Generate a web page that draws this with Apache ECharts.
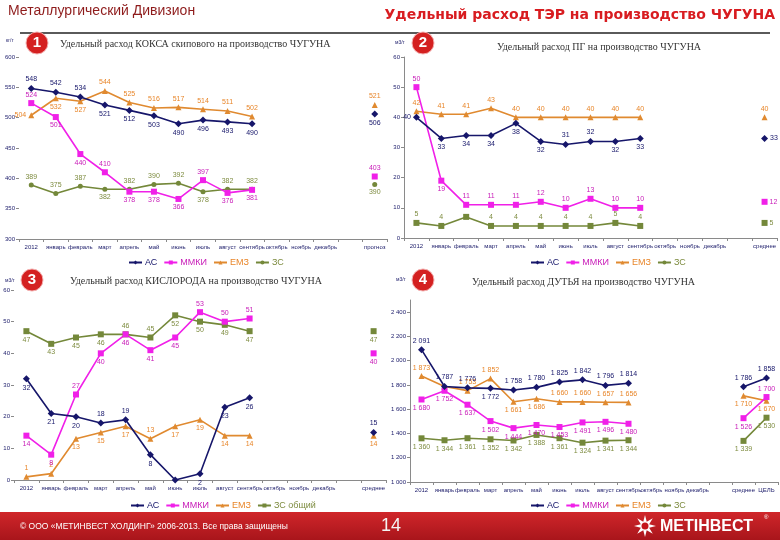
<!DOCTYPE html>
<html><head><meta charset="utf-8">
<script src="https://cdn.jsdelivr.net/npm/echarts@6/dist/echarts.min.js"></script>
<style>html,body{margin:0;padding:0;background:#fff}#c{width:780px;height:540px}</style>
</head><body><div id="c"></div>
<script>
// ---------- DATA ----------
const cats1 = ['2012','январь','февраль','март','апрель','май','июнь','июль','август','сентябрь','октябрь','ноябрь','декабрь','','прогноз'];
const cats2 = ['2012','январь','февраль','март','апрель','май','июнь','июль','август','сентябрь','октябрь','ноябрь','декабрь','','среднее'];
const cats3 = ['2012','январь','февраль','март','апрель','май','июнь','июль','август','сентябрь','октябрь','ноябрь','декабрь','','среднее'];
const cats4 = ['2012','январь','февраль','март','апрель','май','июнь','июль','август','сентябрь','октябрь','ноябрь','декабрь','','среднее','ЦЕЛЬ'];

// 1: кокс, кг/т
const koksAS  = [548,542,534,521,512,503,490,496,493,490,null,null,null,null,506];
const koksMMK = [524,501,440,410,378,378,366,397,376,381,null,null,null,null,403];
const koksEMZ = [504,532,527,544,525,516,517,514,511,502,null,null,null,null,521];
const koksZS  = [389,375,387,382,382,390,392,378,382,382,null,null,null,null,390];
// 2: природный газ, м3/т
const pgAS  = [40,33,34,34,38,32,31,32,32,33,null,null,null,null,33];
const pgMMK = [50,19,11,11,11,12,10,13,10,10,null,null,null,null,12];
const pgEMZ = [42,41,41,43,40,40,40,40,40,40,null,null,null,null,40];
const pgZS  = [5,4,7,4,4,4,4,4,5,4,null,null,null,null,5];
// 3: кислород, м3/т
const o2AS  = [32,21,20,18,19,8,0,2,23,26,null,null,null,null,15];
const o2MMK = [14,8,27,40,46,41,45,53,50,51,null,null,null,null,40];
const o2EMZ = [1,2,13,15,17,13,17,19,14,14,null,null,null,null,14];
const o2ZS  = [47,43,45,46,46,45,52,50,49,47,null,null,null,null,47];
// 4: дутьё, м3/т
const blAS  = [2091,1787,1776,1772,1758,1780,1825,1842,1796,1814,null,null,null,null,1786,1858];
const blMMK = [1680,1752,1637,1502,1444,1470,1453,1491,1496,1480,null,null,null,null,1526,1700];
const blEMZ = [1873,1787,1753,1852,1661,1686,1660,1660,1657,1656,null,null,null,null,1710,1670];
const blZS  = [1360,1344,1361,1352,1342,1388,1361,1324,1341,1344,null,null,null,null,1339,1530];

// ---------- STYLE ----------
const C = {AS:'#16166a', MMK:'#f020e8', EMZ:'#e08a30', ZS:'#74883a'};
const LC = {AS:'#16166a', MMK:'#c81cb8', EMZ:'#e8862a', ZS:'#7e8c40'};
const T='top',B='bottom',L='left',R='right',N='none';
const p1 = {
  AS:[T,T,T,B,B,B,B,B,B,B,T,T,T,T,B],
  MMK:[T,B,B,T,B,B,B,T,B,B,T,T,T,T,T],
  EMZ:[L,B,B,T,T,T,T,T,T,T,T,T,T,T,T],
  ZS:[T,T,T,B,T,T,T,B,T,T,T,T,T,T,B]
};
const p2 = {
  AS:[L,B,B,B,B,B,T,T,B,B,T,T,T,T,R],
  MMK:[T,B,T,T,T,T,T,T,T,T,T,T,T,T,R],
  EMZ:[T,T,T,T,T,T,T,T,T,T,T,T,T,T,T],
  ZS:[T,T,N,T,T,T,T,T,T,T,T,T,T,T,R]
};
const p3 = {
  AS:[B,B,B,T,T,B,N,B,B,B,T,T,T,T,T],
  MMK:[B,B,T,B,B,B,B,T,T,T,T,T,T,T,B],
  EMZ:[T,T,B,B,B,T,B,B,B,B,T,T,T,T,B],
  ZS:[B,B,B,B,T,T,B,B,B,B,T,T,T,T,B]
};
const p4 = {
  AS:[T,T,T,B,T,T,T,T,T,T,T,T,T,T,T,T],
  MMK:[B,B,B,B,B,B,B,B,B,B,B,B,B,B,B,T],
  EMZ:[T,N,T,T,B,B,T,T,T,T,T,T,T,T,B,B],
  ZS:[B,B,B,B,B,B,B,B,B,B,B,B,B,B,B,B]
};
const NARROW = '"Liberation Sans Narrow","Arial Narrow","Liberation Sans",Arial,sans-serif';
const sp = v => String(v).replace(/\B(?=(\d{3})+(?!\d))/g,' ');

function mk(name, key, arr, pos, idx, symbol, size, fmt){
  return {
    type:'line', name, xAxisIndex:idx, yAxisIndex:idx,
    symbol, symbolSize:size, z:3,
    lineStyle:{color:C[key], width:1.6},
    itemStyle:{color:C[key]},
    label:{show:true, fontSize:7, color:LC[key], distance:2, fontFamily:NARROW, formatter: p => fmt ? fmt(p.value) : p.value},
    emphasis:{disabled:true},
    animation:false,
    data: arr.map((v,i)=> v==null ? null : {value:v, label: pos[i]===N ? {show:false} : {position:pos[i]}})
  };
}

const xBase = {type:'category', boundaryGap:true,
  axisLine:{lineStyle:{color:'#8a8a8a'}}, axisTick:{show:true, length:3, lineStyle:{color:'#8a8a8a'}},
  axisLabel:{interval:0, fontSize:6, color:'#1c1c6a', margin:5, fontFamily:NARROW}};
const yBase = (min,max,interval,line,fmt)=>({type:'value', min, max, interval,
  axisLine:{show:line, lineStyle:{color:'#8a8a8a'}}, axisTick:{show:true, length:3, lineStyle:{color:'#8a8a8a'}},
  splitLine:{show:false},
  axisLabel:{fontSize:6, color:'#1c1c6a', margin:4, fontFamily:NARROW, showMaxLabel: max%interval===0, formatter: fmt||'{value}'}});

function legend(left, top, names){
  return {left, top, itemWidth:13, itemHeight:5, itemGap:6, padding:0,
    textStyle:{fontSize:9, fontFamily:NARROW, padding:[0,0,0,-2]},
    data: names.map(([n,k])=>({name:n, textStyle:{color:LC[k]}}))};
}

const star = [];
for (let i=0;i<16;i++){ const r = i%2? 4.5:11; const a = -Math.PI/2 + i*Math.PI/8; star.push([645+r*Math.cos(a), 526+r*Math.sin(a)]); }

const titleStyle = {fontFamily:'"Liberation Serif","Times New Roman",serif', fontSize:10, fontWeight:'normal', color:'#333'};

const option = {
  backgroundColor:'#fff',
  animation:false,
  title:[
    {text:'Удельный расход КОКСА скипового на производство ЧУГУНА', left:60, top:39, textStyle:titleStyle, padding:0},
    {text:'Удельный расход ПГ на производство ЧУГУНА', left:497, top:42, textStyle:titleStyle, padding:0},
    {text:'Удельный расход КИСЛОРОДА на производство ЧУГУНА', left:70, top:276, textStyle:titleStyle, padding:0},
    {text:'Удельный расход ДУТЬЯ на производство ЧУГУНА', left:472, top:277, textStyle:titleStyle, padding:0}
  ],
  grid:[
    {left:19, top:57, width:368, height:182, containLabel:false},
    {left:404, top:57, width:373, height:181, containLabel:false},
    {left:14, top:290, width:372, height:190, containLabel:false},
    {left:410, top:300, width:368, height:182, containLabel:false}
  ],
  xAxis:[
    Object.assign({}, xBase, {gridIndex:0, data:cats1}),
    Object.assign({}, xBase, {gridIndex:1, data:cats2}),
    Object.assign({}, xBase, {gridIndex:2, data:cats3}),
    Object.assign({}, xBase, {gridIndex:3, data:cats4})
  ],
  yAxis:[
    Object.assign(yBase(300,600,50,false), {gridIndex:0}),
    Object.assign(yBase(0,60,10,true), {gridIndex:1}),
    Object.assign(yBase(0,60,10,false), {gridIndex:2}),
    Object.assign(yBase(1000,2500,200,true, v=>sp(v)), {gridIndex:3})
  ],
  legend:[
    legend(128,258,[['АС','AS'],['ММКИ','MMK'],['ЕМЗ','EMZ'],['ЗС','ZS']]),
    legend(530,258,[['АС','AS'],['ММКИ','MMK'],['ЕМЗ','EMZ'],['ЗС','ZS']]),
    legend(130,501,[['АС','AS'],['ММКИ','MMK'],['ЕМЗ','EMZ'],['ЗС общий','ZS']]),
    legend(530,501,[['АС','AS'],['ММКИ','MMK'],['ЕМЗ','EMZ'],['ЗС','ZS']])
  ],
  series:[
    mk('ЗС','ZS',koksZS,p1.ZS,0,'circle',5),
    mk('ЕМЗ','EMZ',koksEMZ,p1.EMZ,0,'triangle',6),
    mk('ММКИ','MMK',koksMMK,p1.MMK,0,'rect',6),
    mk('АС','AS',koksAS,p1.AS,0,'diamond',7),

    mk('ЗС','ZS',pgZS,p2.ZS,1,'rect',6),
    mk('ЕМЗ','EMZ',pgEMZ,p2.EMZ,1,'triangle',6),
    mk('ММКИ','MMK',pgMMK,p2.MMK,1,'rect',6),
    mk('АС','AS',pgAS,p2.AS,1,'diamond',7),

    mk('ЗС общий','ZS',o2ZS,p3.ZS,2,'rect',6),
    mk('ЕМЗ','EMZ',o2EMZ,p3.EMZ,2,'triangle',6),
    mk('ММКИ','MMK',o2MMK,p3.MMK,2,'rect',6),
    mk('АС','AS',o2AS,p3.AS,2,'diamond',7),

    mk('ЗС','ZS',blZS,p4.ZS,3,'rect',6,sp),
    mk('ЕМЗ','EMZ',blEMZ,p4.EMZ,3,'triangle',6,sp),
    mk('ММКИ','MMK',blMMK,p4.MMK,3,'rect',6,sp),
    mk('АС','AS',blAS,p4.AS,3,'diamond',7,sp)
  ],
  graphic:[
    {type:'text', left:8, top:4, style:{text:'Металлургический Дивизион', fill:'#8e1b1b', font:'14px "Liberation Sans", Arial, sans-serif'}},
    {type:'text', right:5, top:8, style:{text:'Удельный расход ТЭР на производство ЧУГУНА', fill:'#d81c20', font:'bold 14px "DejaVu Sans", sans-serif'}},
    {type:'line', shape:{x1:20,y1:33,x2:770,y2:33}, style:{stroke:'#5a5a5a', lineWidth:2}},
    // unit labels
    {type:'text', left:6, top:38, style:{text:'кг/т', fill:'#1c1c6a', font:'5px sans-serif'}},
    {type:'text', left:395, top:40, style:{text:'м3/т', fill:'#1c1c6a', font:'5px sans-serif'}},
    {type:'text', left:5, top:278, style:{text:'м3/т', fill:'#1c1c6a', font:'5px sans-serif'}},
    {type:'text', left:396, top:277, style:{text:'м3/т', fill:'#1c1c6a', font:'5px sans-serif'}},
    // number badges
    {type:'circle', shape:{cx:37,cy:43,r:11}, style:{fill:'#d42020', stroke:'#f4b0b0', lineWidth:1}},
    {type:'text', x:37, y:43, style:{text:'1', fill:'#fff', font:'bold 15px "Liberation Sans", Arial', align:'center', verticalAlign:'middle'}},
    {type:'circle', shape:{cx:423,cy:43,r:11}, style:{fill:'#d42020', stroke:'#f4b0b0', lineWidth:1}},
    {type:'text', x:423, y:43, style:{text:'2', fill:'#fff', font:'bold 15px "Liberation Sans", Arial', align:'center', verticalAlign:'middle'}},
    {type:'circle', shape:{cx:32,cy:280,r:11}, style:{fill:'#d42020', stroke:'#f4b0b0', lineWidth:1}},
    {type:'text', x:32, y:280, style:{text:'3', fill:'#fff', font:'bold 15px "Liberation Sans", Arial', align:'center', verticalAlign:'middle'}},
    {type:'circle', shape:{cx:423,cy:280,r:11}, style:{fill:'#d42020', stroke:'#f4b0b0', lineWidth:1}},
    {type:'text', x:423, y:280, style:{text:'4', fill:'#fff', font:'bold 15px "Liberation Sans", Arial', align:'center', verticalAlign:'middle'}},
    // footer
    {type:'rect', shape:{x:0,y:512,width:780,height:28}, style:{fill:{type:'linear',x:0,y:0,x2:0,y2:1,colorStops:[{offset:0,color:'#d0262a'},{offset:1,color:'#a8151b'}]}}},
    {type:'text', left:20, top:522, style:{text:'© ООО «МЕТИНВЕСТ ХОЛДИНГ» 2006-2013. Все права защищены', fill:'#fff', font:'8.5px "Liberation Sans Narrow","Liberation Sans", Arial'}},
    {type:'text', x:391, y:526, style:{text:'14', fill:'#f4f4f4', font:'18px "Liberation Sans Narrow","Liberation Sans", Arial', align:'center', verticalAlign:'middle'}},
    {type:'polygon', shape:{points:star}, style:{fill:'#fff'}},
    {type:'circle', shape:{cx:645,cy:526,r:3.5}, style:{fill:'#c4161c'}},
    {type:'text', x:660, y:527, style:{text:'МЕТІНВЕСТ', fill:'#fff', font:'bold 16px "Liberation Sans", Arial', verticalAlign:'middle'}},
    {type:'text', x:764, y:517, style:{text:'®', fill:'#fff', font:'6px sans-serif', verticalAlign:'middle'}}
  ]
};
const chart = echarts.init(document.getElementById('c'), null, {renderer:'canvas'});
chart.setOption(option);
</script></body></html>
